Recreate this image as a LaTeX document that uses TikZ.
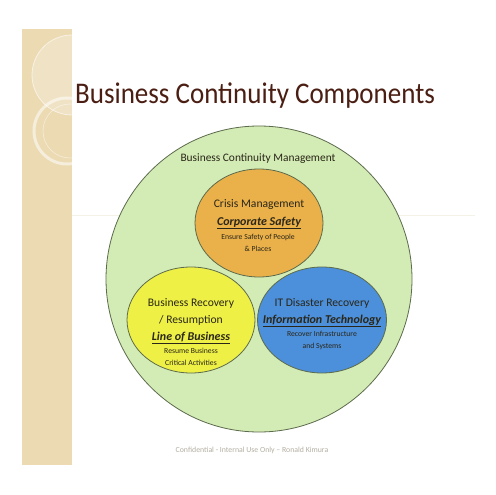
\documentclass[tikz,border=0pt]{standalone}
\usepackage{fontspec}
\setmainfont{Carlito}
\usetikzlibrary{shapes.geometric}
\definecolor{strip}{HTML}{ECDAB2}
\definecolor{titlec}{HTML}{4A1E12}
\definecolor{greenf}{HTML}{D3EBB5}
\definecolor{greend}{HTML}{5C6B4C}
\definecolor{orangef}{HTML}{EAB04A}
\definecolor{yellowf}{HTML}{EEF046}
\definecolor{bluef}{HTML}{4C8FDA}
\definecolor{txt}{HTML}{2A2618}
\definecolor{foot}{HTML}{B4AFA2}
\definecolor{faint}{HTML}{F4F2E6}
\tikzset{
  ring/.style={draw=greend, line width=0.8pt},
  lbl/.style={inner sep=0pt, text=txt, align=center},
  big/.style={lbl, anchor=base, font=\fontsize{11.6}{11.6}\selectfont},
  bi/.style={lbl, anchor=base, font=\fontsize{12}{12}\selectfont\bfseries\itshape},
  small/.style={lbl, anchor=base, font=\fontsize{7.7}{7.7}\selectfont},
}
\begin{document}
\begin{tikzpicture}[x=1pt,y=-1pt]
\useasboundingbox (0,0) rectangle (495,495);
\fill[white] (0,0) rectangle (495,495);
% left strip
\fill[strip] (22,29) rectangle (72,465);
\begin{scope}
\clip (22,29) rectangle (72,465);
\fill[white, opacity=0.25] (72,75) circle (40);
\draw[white, opacity=0.6, line width=0.8pt] (72,75) circle (40);
\draw[white, opacity=0.55, line width=3pt] (67,131) circle (33);
\draw[white, opacity=0.5, line width=0.6pt] (70,131) circle (27);
\end{scope}
\draw[faint, line width=0.8pt] (72,215) -- (475,215);
% title
\node[inner sep=0pt, anchor=base west, text=titlec, font=\fontsize{30}{30}\selectfont] (title) at (75,103) {\scalebox{0.9}[1]{Business Continuity Components}};
% circles
\node[ring, fill=greenf, circle, minimum size=306pt, inner sep=0pt] (bcm) at (259,279) {};
\node[ring, fill=orangef, ellipse, minimum width=128pt, minimum height=108pt, inner sep=0pt] (cm) at (259,223) {};
\node[ring, fill=yellowf, ellipse, minimum width=128pt, minimum height=106pt, inner sep=0pt] (br) at (191,320) {};
\node[ring, fill=bluef, ellipse, minimum width=129pt, minimum height=106pt, inner sep=0pt] (it) at (322,320) {};
% texts
\node[lbl, anchor=base, font=\fontsize{11.4}{11.4}\selectfont] (bcmt) at (258,161) {Business Continuity Management};
\node[big] (cm1) at (259,207) {Crisis Management};
\node[bi] (cm2) at (259,225) {\underline{Corporate Safety}};
\node[small] (cm3) at (258,239) {Ensure Safety of People};
\node[small] (cm4) at (258,251) {\& Places};
\node[big] (br1) at (191,306) {Business Recovery};
\node[big] (br2) at (191,323) {/ Resumption};
\node[bi] (br3) at (191,340) {\underline{Line of Business}};
\node[small] (br4) at (191,353) {Resume Business};
\node[small] (br5) at (191,365) {Critical Activities};
\node[big] (it1) at (322,306) {IT Disaster Recovery};
\node[bi] (it2) at (322,323) {\underline{Information Technology}};
\node[small] (it3) at (322,336) {Recover Infrastructure};
\node[small] (it4) at (322,348) {and Systems};
% footer
\node[inner sep=0pt, anchor=base, text=foot, font=\fontsize{7.8}{7.8}\selectfont] (footer) at (252,452) {Confidential - Internal Use Only -- Ronald Kimura};
\end{tikzpicture}
\end{document}
